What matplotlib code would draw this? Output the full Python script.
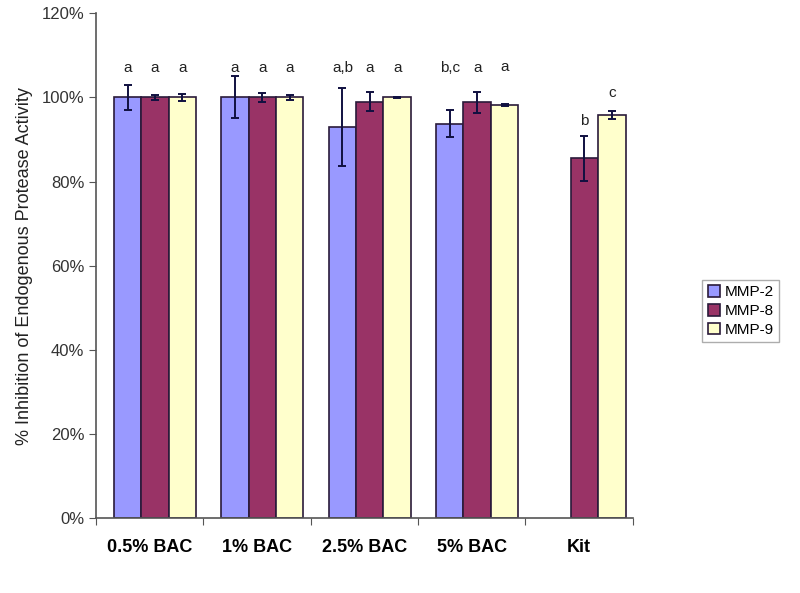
import numpy as np
import matplotlib
matplotlib.use("Agg")
import matplotlib.pyplot as plt
from matplotlib.ticker import FixedLocator, PercentFormatter

plt.rcParams["font.family"] = ["Liberation Sans", "DejaVu Sans"]

categories = ["0.5% BAC", "1% BAC", "2.5% BAC", "5% BAC", "Kit"]
series = ["MMP-2", "MMP-8", "MMP-9"]
mmp2 = [100.0, 100.0, 93.0, 93.8, np.nan]
mmp8 = [100.0, 100.0, 99.0, 98.8, 85.5]
mmp9 = [100.0, 100.0, 100.0, 98.2, 95.8]
mmp2_err = [2.9, 5.0, 9.2, 3.2, np.nan]
mmp8_err = [0.7, 1.1, 2.3, 2.5, 5.3]
mmp9_err = [0.8, 0.5, 0.2, 0.3, 0.9]
letters2 = ["a", "a", "a,b", "b,c", ""]
letters8 = ["a", "a", "a", "a", "b"]
letters9 = ["a", "a", "a", "a", "c"]
letter_y8 = [107, 107, 107, 107, 94.5]
letter_y9 = [107, 107, 107, 107.3, 101]

colors = ["#9999FF", "#993366", "#FFFFCC"]

fig = plt.figure(figsize=(8, 5.93), dpi=100)
ax = fig.add_axes([0.12, 0.1265, 0.671, 0.851])

x = np.arange(len(categories)) + 0.55
w = 0.255
vals = [mmp2, mmp8, mmp9]
errs = [mmp2_err, mmp8_err, mmp9_err]
lets = [letters2, letters8, letters9]
ly = [[107] * 5, letter_y8, letter_y9]
for i in range(3):
    xi = x + (i - 1) * w
    ax.bar(xi, vals[i], w, color=colors[i], edgecolor="#2a1a3a", linewidth=1.2,
           label=series[i], zorder=2)
    ax.errorbar(xi, vals[i], yerr=errs[i], fmt="none", ecolor="#101040",
                elinewidth=1.4, capsize=3, capthick=1.4, zorder=3)
    for j in range(len(categories)):
        if lets[i][j]:
            ax.text(xi[j], ly[i][j], lets[i][j], ha="center", va="center",
                    fontsize=11, color="#222222")

ax.set_xlim(0, len(categories))
ax.set_ylim(0, 120)
ax.yaxis.set_major_locator(FixedLocator(np.arange(0, 121, 20)))
ax.yaxis.set_major_formatter(PercentFormatter(decimals=0))
ax.set_xticks(np.arange(len(categories) + 1))
ax.set_xticklabels([])
ax.set_xticks(x - 0.05, minor=True)
ax.set_xticklabels(categories, minor=True, fontsize=13, fontweight="bold")
ax.tick_params(axis="x", which="minor", length=0, pad=15)
ax.tick_params(axis="x", which="major", length=5, color="#555555", direction="out")
ax.tick_params(axis="y", length=5, color="#555555", labelsize=12, labelcolor="#333333")
for s in ["top", "right"]:
    ax.spines[s].set_visible(False)
for s in ["left", "bottom"]:
    ax.spines[s].set_color("#555555")
    ax.spines[s].set_linewidth(1.2)

ax.set_ylabel("% Inhibition of Endogenous Protease Activity", fontsize=13,
              color="#222222", labelpad=6)

leg = fig.legend(loc="upper left", bbox_to_anchor=(0.878, 0.528), fontsize=11,
                 frameon=True, fancybox=False, handlelength=0.8, handleheight=0.8,
                 handletextpad=0.3, borderpad=0.35, labelspacing=0.3,
                 borderaxespad=0)
leg.get_frame().set_edgecolor("#999999")

fig.savefig("out.png", dpi=100)
